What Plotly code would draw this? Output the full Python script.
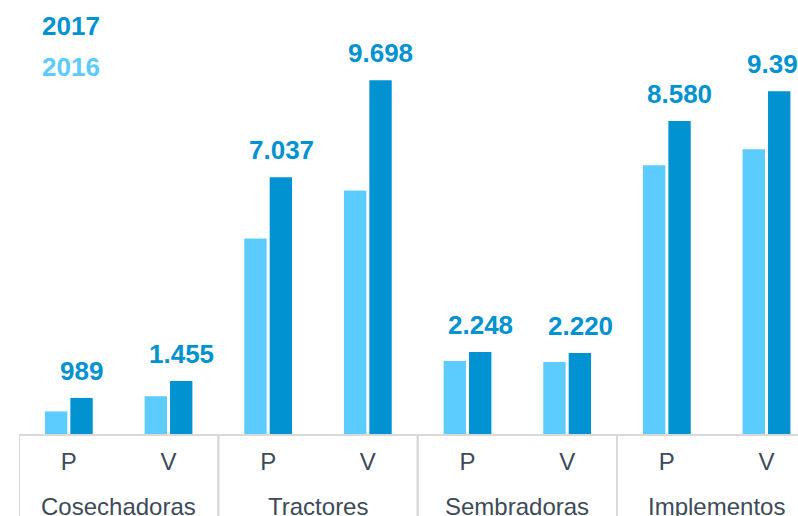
import plotly.graph_objects as go

# Datos
grupos = ["Cosechadoras", "Cosechadoras", "Tractores", "Tractores",
          "Sembradoras", "Sembradoras", "Implementos", "Implementos"]
tipos = ["P", "V", "P", "V", "P", "V", "P", "V"]
valores_2016 = [620, 1035, 5360, 6680, 2000, 1975, 7370, 7810]
valores_2017 = [989, 1455, 7037, 9698, 2248, 2220, 8580, 9395]
etiquetas_2017 = ["989", "1.455", "7.037", "9.698", "2.248", "2.220", "8.580", "9.395"]

COLOR_2016 = "#5CCBFE"
COLOR_2017 = "#0092D1"
COLOR_EJE = "#D9D9D9"
COLOR_TEXTO = "#3D4A5A"
FUENTE = "Arial, Liberation Sans, sans-serif"

categorias = [f"{g} {t}" for g, t in zip(grupos, tipos)]

fig = go.Figure()

fig.add_trace(go.Bar(
    x=categorias, y=valores_2016, name="2016",
    marker=dict(color=COLOR_2016, line=dict(width=0)),
))
fig.add_trace(go.Bar(
    x=categorias, y=valores_2017, name="2017",
    marker=dict(color=COLOR_2017, line=dict(width=0)),
))

# Etiquetas de valor sobre las barras 2017
for i, (v, t) in enumerate(zip(valores_2017, etiquetas_2017)):
    fig.add_annotation(
        x=i, y=v, text=t, showarrow=False,
        xanchor="center", yanchor="bottom", xshift=13, yshift=10,
        font=dict(family=FUENTE, size=26, color=COLOR_2017, weight="bold"),
    )

# Etiquetas de grupo y separadores
nombres_grupo = list(dict.fromkeys(grupos))
for nombre in nombres_grupo:
    idx = [i for i, g in enumerate(grupos) if g == nombre]
    fig.add_annotation(
        x=sum(idx) / len(idx), y=-0.166, xref="x", yref="paper",
        text=nombre, showarrow=False, xanchor="center", yanchor="middle",
        font=dict(family=FUENTE, size=24, color=COLOR_TEXTO),
    )
    for borde in (idx[0] - 0.5, idx[-1] + 0.5):
        fig.add_shape(type="line", xref="x", yref="paper",
                      x0=borde, x1=borde, y0=0, y1=-0.25,
                      line=dict(color=COLOR_EJE, width=2))

# Leyenda como texto coloreado
fig.add_annotation(x=0.027, y=0.94, xref="paper", yref="paper", text="<b>2017</b>",
                   showarrow=False, xanchor="left", yanchor="middle",
                   font=dict(family=FUENTE, size=26, color=COLOR_2017))
fig.add_annotation(x=0.027, y=0.845, xref="paper", yref="paper", text="<b>2016</b>",
                   showarrow=False, xanchor="left", yanchor="middle",
                   font=dict(family=FUENTE, size=26, color=COLOR_2016))

fig.update_layout(
    width=798, height=516,
    margin=dict(l=19, r=0, t=0, b=82),
    paper_bgcolor="white", plot_bgcolor="white",
    barmode="group", bargap=0.49, bargroupgap=0.12,
    showlegend=False,
    font=dict(family=FUENTE),
)
fig.update_xaxes(
    type="category", range=[-0.5, 7.316], automargin=False,
    tickmode="array", tickvals=categorias, ticktext=tipos,
    showline=True, linecolor=COLOR_EJE, linewidth=2,
    ticks="", showgrid=False, ticklabelstandoff=5,
    tickfont=dict(family=FUENTE, size=24, color=COLOR_TEXTO),
)
fig.update_yaxes(visible=False, range=[0, 11900], automargin=False)

fig.write_html("out.html", config={"displayModeBar": False},
               post_script="document.body.style.margin='0';")
